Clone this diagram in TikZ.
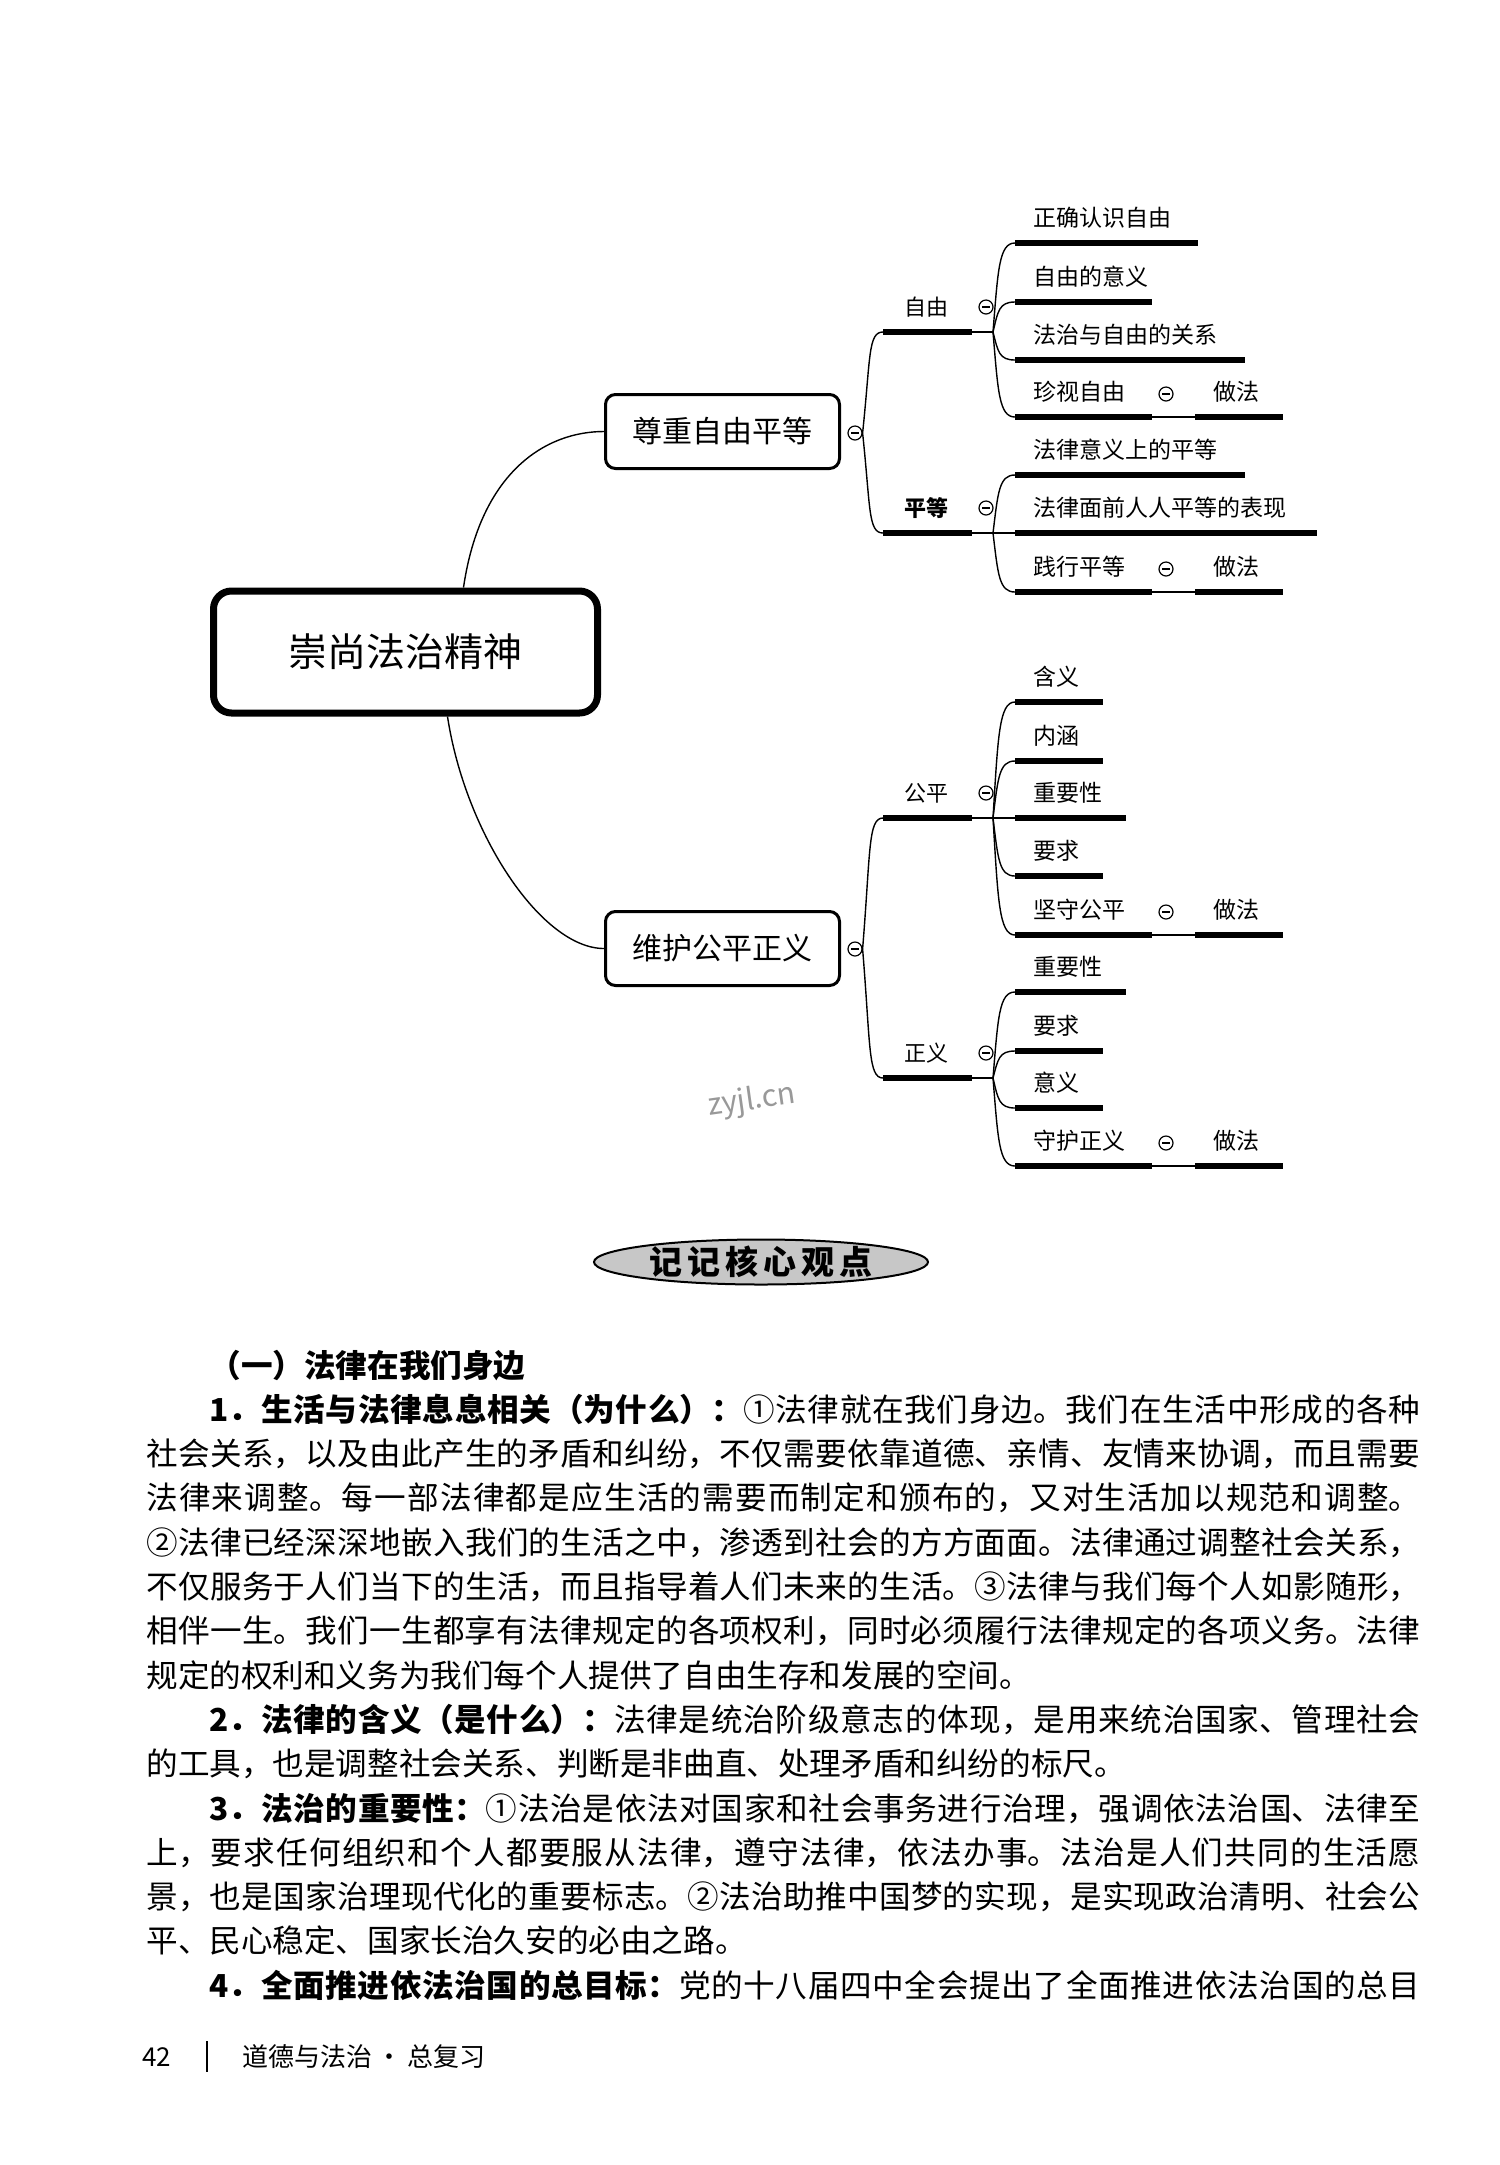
\documentclass[tikz,border=0pt]{standalone}
\usepackage{fontspec}
\setmainfont{Noto Sans CJK SC}
\usetikzlibrary{shapes.geometric}

\begin{document}
\begin{tikzpicture}[
    x=0.5pt, y=-0.5pt,
    root/.style={rectangle, draw, rounded corners=9pt, line width=3.5pt,
                 minimum width=192pt, minimum height=61pt,
                 font=\fontsize{19.5}{24}\selectfont},
    topic/.style={rectangle, draw, rounded corners=5pt, line width=1.5pt,
                  minimum width=117pt, minimum height=37pt,
                  font=\fontsize{15}{18}\selectfont},
    fold/.style={circle, draw, line width=0.6pt, minimum size=7pt, inner sep=0pt,
                 path picture={\draw[line width=0.6pt]
                   ([xshift=1.7pt]path picture bounding box.west) --
                   ([xshift=-1.7pt]path picture bounding box.east);}},
    sub/.style={inner sep=0pt, font=\fontsize{11}{13}\selectfont},
    leaf/.style={anchor=west, inner sep=0pt, font=\fontsize{11.5}{14}\selectfont},
    bar/.style={line width=2.6pt},
    link/.style={line width=0.7pt}
]
\fill[white] (0,0) rectangle (1500,2165);
\useasboundingbox (0,0) rectangle (1500,2165);

% mind map
\node[root]  (root)     at (405.5,652)   {崇尚法治精神};
\node[topic] (zunzhong) at (722.5,431.5) {尊重自由平等};
\node[topic] (weihu)    at (722.5,948.5) {维护公平正义};
\node[fold]  (fzunzhong) at (855,433) {};
\node[fold]  (fweihu)    at (855,949) {};

\draw[link] ([xshift=29pt]root.north) .. controls +(17,-116) and +(-58,0) .. (zunzhong.west);
\draw[link] ([xshift=21pt]root.south) .. controls +(18,118) and +(-62,0) .. (weihu.west);

\foreach \g/\a/\ay/\y/\t in {ziyou/fzunzhong/433/332/自由, pingdeng/fzunzhong/433/533/\textbf{平等},
                             gongping/fweihu/949/818/公平, zhengyi/fweihu/949/1078/正义}{
    \coordinate (\g) at (883,\y);
    \coordinate (j\g) at (993,\y);
    \node[sub]  (l\g) at (926,\y-25) {\t};
    \node[fold] (f\g) at (986,\y-25) {};
    \draw[link] (\a.east) .. controls +(8,{0.75*(\y-\ay)}) and +(-15,0) .. (\g);
    \draw[link] (\g) -- (j\g);
    \draw[bar]  (\g) -- +(89,0);
}

\foreach \g/\gy/\k/\y/\e/\t in {
    ziyou/332/1/243/1198/正确认识自由, ziyou/332/2/302/1152/自由的意义,
    ziyou/332/3/360/1245/法治与自由的关系,
    pingdeng/533/1/475/1245/法律意义上的平等, pingdeng/533/2/533/1317/法律面前人人平等的表现,
    gongping/818/1/702/1103/含义, gongping/818/2/761/1103/内涵,
    gongping/818/3/818/1126/重要性, gongping/818/4/876/1103/要求,
    zhengyi/1078/1/992/1126/重要性, zhengyi/1078/2/1051/1103/要求,
    zhengyi/1078/3/1108/1103/意义}{
    \coordinate (\g\k) at (1015,\y);
    \node[leaf] (t\g\k) at (1033,\y-25) {\t};
    \draw[bar]  (\g\k) -- (\e,\y);
    \draw[link] (j\g) .. controls +(5,{0.7*(\y-\gy)}) and +(-16,0) .. (\g\k);
}

\foreach \g/\gy/\y/\t in {ziyou/332/417/珍视自由, pingdeng/533/592/践行平等,
                          gongping/818/935/坚守公平, zhengyi/1078/1166/守护正义}{
    \coordinate (p\g) at (1015,\y);
    \node[leaf] (tp\g) at (1033,\y-25) {\t};
    \node[fold] (fp\g) at (1166,\y-23) {};
    \node[leaf] (zf\g) at (1213,\y-25) {做法};
    \draw[link] (p\g) -- (1283,\y);
    \draw[bar]  (p\g) -- (1152,\y);
    \draw[bar]  (1195,\y) -- (1283,\y);
    \draw[link] (j\g) .. controls +(5,{0.7*(\y-\gy)}) and +(-16,0) .. (p\g);
}

\node[rotate=8, text=black!40, font=\fontsize{15}{17}\selectfont] (mark) at (752,1101) {zyjl.cn};

% banner
\node[ellipse, draw, line width=1pt, fill=black!22, minimum width=167pt,
      minimum height=22.5pt, inner sep=0pt] (banner) at (761,1262) {};
\node[font=\bfseries\fontsize{16.5}{18}\selectfont] (bannertext) at (banner.center)
    {记\hspace{2.5pt}记\hspace{2.5pt}核\hspace{2.5pt}心\hspace{2.5pt}观\hspace{2.5pt}点};

% text
\node[anchor=base west, inner sep=0pt, text width=637pt, align=justify,
      font=\fontsize{15.8}{22.15}\selectfont] (body) at (146,1377) {%
\XeTeXlinebreaklocale "zh"\XeTeXlinebreakskip=0pt plus 2pt minus 0.4pt
\hspace*{2em}\textbf{（一）法律在我们身边}\par
\hspace*{2em}\textbf{1．生活与法律息息相关（为什么）：}①法律就在我们身边。我们在生活中形成的各种\linebreak
社会关系，以及由此产生的矛盾和纠纷，不仅需要依靠道德、亲情、友情来协调，而且需要\linebreak
法律来调整。每一部法律都是应生活的需要而制定和颁布的，又对生活加以规范和调整。\linebreak
②法律已经深深地嵌入我们的生活之中，渗透到社会的方方面面。法律通过调整社会关系，\linebreak
不仅服务于人们当下的生活，而且指导着人们未来的生活。③法律与我们每个人如影随形，\linebreak
相伴一生。我们一生都享有法律规定的各项权利，同时必须履行法律规定的各项义务。法律\linebreak
规定的权利和义务为我们每个人提供了自由生存和发展的空间。\par
\hspace*{2em}\textbf{2．法律的含义（是什么）：}法律是统治阶级意志的体现，是用来统治国家、管理社会\linebreak
的工具，也是调整社会关系、判断是非曲直、处理矛盾和纠纷的标尺。\par
\hspace*{2em}\textbf{3．法治的重要性：}①法治是依法对国家和社会事务进行治理，强调依法治国、法律至\linebreak
上，要求任何组织和个人都要服从法律，遵守法律，依法办事。法治是人们共同的生活愿\linebreak
景，也是国家治理现代化的重要标志。②法治助推中国梦的实现，是实现政治清明、社会公\linebreak
平、民心稳定、国家长治久安的必由之路。\par
{\parfillskip=0pt
\hspace*{2em}\textbf{4．全面推进依法治国的总目标：}党的十八届四中全会提出了全面推进依法治国的总目\par}
};

% footer
\node[anchor=west, inner sep=0pt, font=\fontsize{13}{15}\selectfont] (page) at (142,2057) {42};
\draw[line width=0.8pt] (207,2041) -- (207,2072);
\node[anchor=west, inner sep=0pt, font=\fontsize{13}{15}\selectfont] (book) at (242,2057) {道德与法治\,·\,总复习};
\end{tikzpicture}
\end{document}
